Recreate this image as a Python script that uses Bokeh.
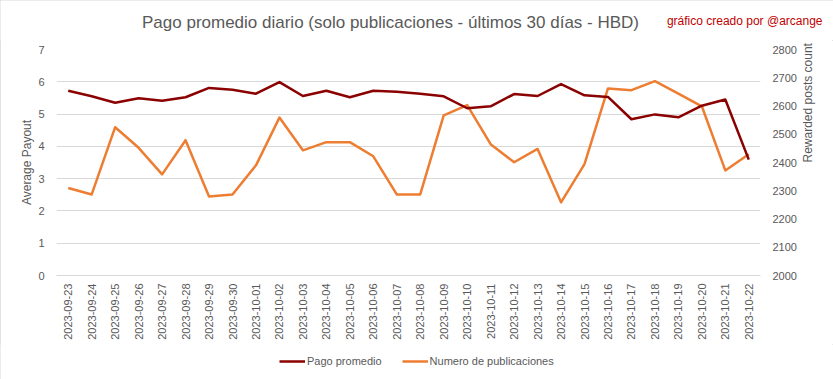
from math import pi
from bokeh.plotting import figure
from bokeh.layouts import column
from bokeh.models import (FactorRange, Range1d, LinearAxis, Legend, LegendItem,
                          FixedTicker)
from bokeh.core.properties import value
from bokeh.embed import file_html
from bokeh.resources import INLINE

# ---- data ----
dates = ["2023-09-23", "2023-09-24", "2023-09-25", "2023-09-26", "2023-09-27",
         "2023-09-28", "2023-09-29", "2023-09-30", "2023-10-01", "2023-10-02",
         "2023-10-03", "2023-10-04", "2023-10-05", "2023-10-06", "2023-10-07",
         "2023-10-08", "2023-10-09", "2023-10-10", "2023-10-11", "2023-10-12",
         "2023-10-13", "2023-10-14", "2023-10-15", "2023-10-16", "2023-10-17",
         "2023-10-18", "2023-10-19", "2023-10-20", "2023-10-21", "2023-10-22"]

pago_promedio = [5.72, 5.55, 5.35, 5.49, 5.41, 5.52, 5.81, 5.75, 5.63, 5.99,
                 5.56, 5.72, 5.52, 5.72, 5.69, 5.63, 5.55, 5.18, 5.24, 5.62,
                 5.56, 5.93, 5.58, 5.53, 4.84, 4.99, 4.90, 5.26, 5.45, 3.59]

numero_publicaciones = [2310, 2287, 2525, 2452, 2358, 2479, 2280, 2287, 2390, 2559,
                        2443, 2472, 2472, 2422, 2287, 2287, 2567, 2603, 2465, 2401,
                        2448, 2259, 2394, 2662, 2656, 2688, 2644, 2599, 2372, 2429]

left_ticks = [0, 1, 2, 3, 4, 5, 6, 7]
right_ticks = [2000, 2100, 2200, 2300, 2400, 2500, 2600, 2700, 2800]

title_text = "Pago promedio diario (solo publicaciones - últimos 30 días - HBD)"
credit_text = "gráfico creado por @arcange"
series_names = ["Pago promedio", "Numero de publicaciones"]

# ---- style ----
FONT = "Liberation Sans"
GREY = "#595959"
GRID = "#D9D9D9"
RED = "#8B0000"
ORANGE = "#ED7D31"
CREDIT = "#C00000"

W = 833
HEAD_H = 40
FOOT_H = 35
MAIN_H = 379 - HEAD_H - FOOT_H


def no_align(fig):
    try:
        fig.frame_align = False
    except Exception:
        pass


# ---- header strip: title + credit ----
head = figure(width=W, height=HEAD_H, x_range=Range1d(0, W),
              y_range=Range1d(HEAD_H, 0), output_backend="svg",
              toolbar_location=None, x_axis_location=None,
              y_axis_location=None, min_border=0)
head.grid.visible = False
head.outline_line_color = None
no_align(head)
head.text(x=[390], y=[22], text=[title_text], text_align="center",
          text_baseline="middle", text_font=value(FONT),
          text_font_size="17px", text_color=GREY)
head.text(x=[822], y=[20.5], text=[credit_text], text_align="right",
          text_baseline="middle", text_font=value(FONT),
          text_font_size="12px", text_color=CREDIT)

# ---- main chart ----
p = figure(width=W, height=MAIN_H,
           x_range=FactorRange(factors=dates, range_padding=0),
           y_range=Range1d(0, 7),
           output_backend="svg", toolbar_location=None,
           min_border_left=56, min_border_right=73,
           min_border_top=49 - HEAD_H, min_border_bottom=MAIN_H - 9 - 226)
p.extra_y_ranges = {"count": Range1d(2000, 2800)}
p.outline_line_color = None
no_align(p)

p.xgrid.grid_line_color = None
p.ygrid.ticker = FixedTicker(ticks=left_ticks)
p.ygrid.grid_line_color = GRID
p.ygrid.grid_line_width = 1

ya = p.yaxis[0]
ya.ticker = FixedTicker(ticks=left_ticks)
ya.axis_label = "Average Payout"
ra = LinearAxis(y_range_name="count", ticker=FixedTicker(ticks=right_ticks),
                axis_label="Rewarded posts count")
p.add_layout(ra, "right")
ra.axis_label_orientation = pi / 2

for ax in (ya, ra):
    ax.axis_line_color = None
    ax.major_tick_line_color = None
    ax.minor_tick_line_color = None
    ax.major_tick_out = 0
    ax.major_tick_in = 0
    ax.minor_tick_out = 0
    ax.major_label_text_color = GREY
    ax.major_label_text_font = FONT
    ax.major_label_text_font_size = "11px"
    ax.major_label_standoff = 12
    ax.axis_label_text_font = FONT
    ax.axis_label_text_font_size = "12px"
    ax.axis_label_text_font_style = "normal"
    ax.axis_label_text_color = GREY
ya.axis_label_standoff = 1
ra.axis_label_standoff = 8

xa = p.xaxis[0]
xa.axis_line_color = GRID
xa.major_tick_line_color = None
xa.minor_tick_line_color = None
xa.major_tick_out = 0
xa.major_tick_in = 0
xa.major_label_orientation = pi / 2
xa.major_label_text_font = FONT
xa.major_label_text_font_size = "11px"
xa.major_label_text_color = GREY
xa.major_label_standoff = 8

p.line(dates, numero_publicaciones, y_range_name="count",
       line_color=ORANGE, line_width=2.5, line_join="round")
p.line(dates, pago_promedio, line_color=RED, line_width=2.5,
       line_join="round")

# ---- footer strip: legend ----
# The footer's ranges lie entirely below zero, so its key lines (fed with the
# series values, all positive) stay out of view; only the legend keys show.
foot = figure(width=W, height=FOOT_H, x_range=Range1d(-W, 0),
              y_range=Range1d(-FOOT_H, 0), output_backend="svg",
              toolbar_location=None, x_axis_location=None,
              y_axis_location=None, min_border=0)
foot.grid.visible = False
foot.outline_line_color = None
no_align(foot)
idx = list(range(1, len(dates) + 1))
k_red = foot.line(x=idx, y=pago_promedio, line_color=RED, line_width=2.5)
k_orange = foot.line(x=idx, y=numero_publicaciones, line_color=ORANGE,
                     line_width=2.5)

legend = Legend(items=[LegendItem(label=series_names[0], renderers=[k_red]),
                       LegendItem(label=series_names[1], renderers=[k_orange])],
                orientation="horizontal", location=(279, 11),
                padding=2, margin=0, spacing=20, label_standoff=2,
                glyph_width=26, glyph_height=14, label_height=14,
                label_text_font=FONT, label_text_font_size="11px",
                label_text_color=GREY, border_line_color=None,
                background_fill_alpha=0)
foot.add_layout(legend, "center")

layout = column(head, p, foot, spacing=0)
try:
    layout.styles = {"outline": "1px solid #D9D9D9", "outline-offset": "-1px"}
except Exception:
    pass
open("out.html", "w").write(file_html(layout, INLINE))
